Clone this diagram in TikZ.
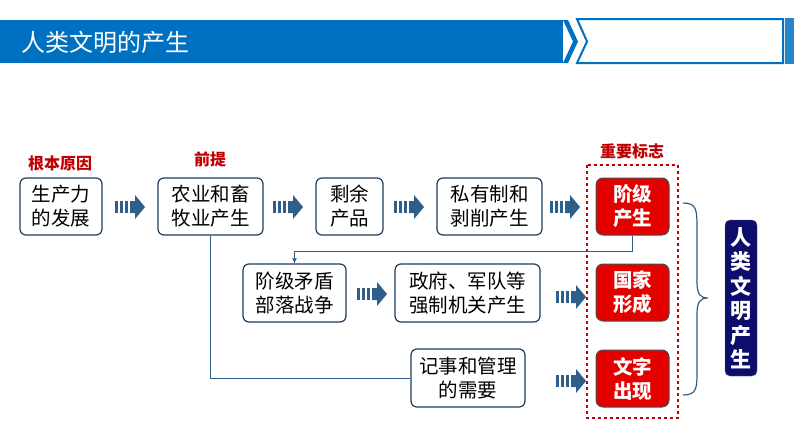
\documentclass[tikz,border=0pt]{standalone}
\usepackage{fontspec}
\setmainfont{Noto Sans CJK SC}
\usetikzlibrary{decorations.pathreplacing,arrows.meta}
\definecolor{tblue}{HTML}{0070C0}
\definecolor{bord}{HTML}{1F3B5A}
\definecolor{arr}{HTML}{2E5E8A}
\definecolor{dred}{HTML}{C00000}
\definecolor{navy}{HTML}{0D0D6B}
\tikzset{
 box/.style={draw=bord,line width=1.2pt,rounded corners=6pt,align=center,font=\fontsize{19.5}{24}\selectfont,inner sep=0pt},
 redbox/.style={draw=black!70,fill=red!90!black,line width=1pt,rounded corners=7pt,align=center,text=white,font=\fontsize{19.5}{24}\selectfont\bfseries,inner sep=0pt,minimum width=73pt,minimum height=57pt},
 lab/.style={text=dred,font=\fontsize{16}{18}\selectfont\bfseries},
 conn/.style={draw=arr,line width=1pt},
}
\newcommand{\striparrow}[2]{%
 \begin{scope}[shift={(#1,#2)}]
 \fill[arr] (0,-6) rectangle (2.5,6);
 \fill[arr] (5,-6) rectangle (7.5,6);
 \fill[arr] (10,-6) rectangle (12.5,6);
 \fill[arr] (15,-6) -- (20,-6) -- (20,-12) -- (30,0) -- (20,12) -- (20,6) -- (15,6) -- cycle;
 \end{scope}}
\begin{document}
\begin{tikzpicture}[x=1pt,y=-1pt]
\useasboundingbox (0,0) rectangle (794,447);
% title bar
\fill[tblue] (0,20) rectangle (563,63);
\fill[tblue] (563,20) -- (568,20) -- (578,41.5) -- (568,63) -- (563,63) -- (573,41.5) -- cycle;
\draw[tblue,line width=2pt] (577,19) -- (783,19) -- (783,63) -- (577,63) -- (587,41.5) -- cycle;
\fill[tblue!85!white] (785,18) rectangle (794,64);
\node[text=white,anchor=west,font=\fontsize{24}{28}\selectfont] (title) at (18,42) {人类文明的产生};
% boxes
\node[box,minimum width=82pt,minimum height=57pt] (a) at (61,206.5) {生产力\\的发展};
\node[box,minimum width=105pt,minimum height=57pt] (b) at (210.5,206.5) {农业和畜\\牧业产生};
\node[box,minimum width=67pt,minimum height=57pt] (c) at (349.5,206.5) {剩余\\产品};
\node[box,minimum width=105pt,minimum height=57pt] (d) at (489.5,206.5) {私有制和\\剥削产生};
\node[redbox] (e) at (632.5,206.5) {阶级\\产生};
\node[box,minimum width=103pt,minimum height=58pt] (f) at (294.5,293) {阶级矛盾\\部落战争};
\node[box,minimum width=145pt,minimum height=58pt] (g) at (467.5,293) {政府、军队等\\强制机关产生};
\node[redbox] (h) at (632.5,292.5) {国家\\形成};
\node[box,minimum width=114pt,minimum height=58pt] (i) at (468,378) {记事和管理\\的需要};
\node[redbox] (j) at (632.5,378.5) {文字\\出现};
\node[draw=black!60,fill=navy,rounded corners=5pt,minimum width=32pt,minimum height=156pt,inner sep=0pt,text=white,font=\fontsize{21}{24.5}\selectfont\bfseries,align=center] (k) at (741,298) {人\\类\\文\\明\\产\\生};
% dashed
\draw[dred,dashed,line width=1.2pt] (587,165) rectangle (678,418);
% labels
\node[lab] (l1) at (60,163) {根本原因};
\node[lab] (l2) at (210,159) {前提};
\node[lab] (l3) at (632,151) {重要标志};
% striped arrows
\striparrow{115}{207}
\striparrow{273}{207}
\striparrow{394}{207}
\striparrow{550}{207}
\striparrow{357}{294}
\striparrow{556}{297}
\striparrow{556}{381}
% connectors
\draw[conn] (b.south) |- (i.west);
\draw[conn,-{Latex[length=5pt,width=5pt]}] (e.south) |- (294.5,251) -- (f.north);
% brace
\draw[arr,line width=1.2pt] (683,203) .. controls (697,203) and (697,210) .. (697,230) -- (697,282) .. controls (697,294) and (700,298) .. (708,298) .. controls (700,298) and (697,302) .. (697,314) -- (697,370) .. controls (697,388) and (697,395) .. (683,395);
\end{tikzpicture}
\end{document}
